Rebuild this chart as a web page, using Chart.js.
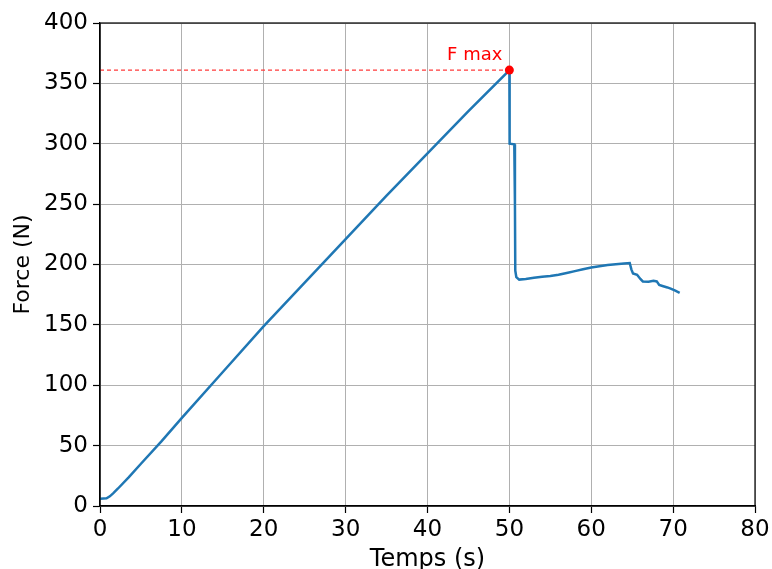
<!DOCTYPE html>
<html>
<head>
<meta charset="utf-8">
<script src="https://cdn.jsdelivr.net/npm/chart.js@4"></script>
<style>
  body { margin: 0; background: #fff; }
  canvas { display: block; }
</style>
</head>
<body>
<canvas id="force-chart" width="772" height="569"></canvas>
<script>
// Essai de traction : force en fonction du temps
const temps = [0, 0.8, 1.2, 1.6, 2.2, 3.5, 5, 7.5, 10, 15, 20, 25, 30, 35, 40, 45, 49.95,
    50.0, 50.03, 50.6, 50.68, 50.72, 50.85, 51.2, 52, 53, 54, 55, 56, 57, 58, 59, 60,
    61, 62, 63, 64, 64.7, 64.9, 65.1, 65.6, 66.0, 66.3, 67.0, 67.6, 68.0, 68.3, 68.8,
    69.3, 69.7, 70.2, 70.8];
const force = [6, 6.4, 8, 10.5, 14.5, 23.7, 35, 53.5, 73, 111, 149, 185, 221, 257, 292, 327, 360.5,
    361, 300, 299.5, 250, 195, 189.5, 187.5, 188, 189, 189.8, 190.5, 191.5, 193, 194.5, 196, 197.5,
    198.5, 199.5, 200.3, 200.8, 201.2, 196, 192.5, 191.5, 188, 186, 185.8, 186.5, 186, 183, 182,
    181, 180, 178.5, 176.5];

const fmaxTemps = [50.0];
const fmaxForce = [361];
const fmaxLabel = 'F max';

const xTicks = [0, 10, 20, 30, 40, 50, 60, 70, 80];
const yTicks = [0, 50, 100, 150, 200, 250, 300, 350, 400];

const courbe = temps.map((t, i) => ({ x: t, y: force[i] }));
const pointMax = fmaxTemps.map((t, i) => ({ x: t, y: fmaxForce[i] }));
const ligneMax = [{ x: xTicks[0], y: fmaxForce[0] }, { x: fmaxTemps[0], y: fmaxForce[0] }];

const FONT = 'DejaVu Sans';

// cadre complet + texte "F max"
const cadrePlugin = {
    id: 'cadre',
    afterDraw(chart) {
        const { ctx, chartArea, scales } = chart;
        ctx.save();
        ctx.strokeStyle = '#000';
        ctx.lineWidth = 1.2;
        ctx.strokeRect(chartArea.left, chartArea.top,
            chartArea.right - chartArea.left, chartArea.bottom - chartArea.top);

        const px = scales.x.getPixelForValue(fmaxTemps[0]);
        const py = scales.y.getPixelForValue(fmaxForce[0]);
        ctx.fillStyle = '#ff0000';
        ctx.font = `18px "${FONT}"`;
        ctx.textAlign = 'right';
        ctx.textBaseline = 'alphabetic';
        ctx.fillText(fmaxLabel, px - 7, py - 10);
        ctx.restore();
    }
};

new Chart(document.getElementById('force-chart'), {
    type: 'line',
    data: {
        datasets: [
            {
                data: ligneMax,
                borderColor: '#ff3b3b',
                borderWidth: 1.2,
                borderDash: [4, 3],
                pointRadius: 0,
                order: 2
            },
            {
                data: courbe,
                borderColor: '#1f77b4',
                borderWidth: 2.5,
                pointRadius: 0,
                tension: 0,
                order: 1
            },
            {
                data: pointMax,
                showLine: false,
                pointRadius: 4.5,
                pointBackgroundColor: '#ff0000',
                pointBorderColor: '#ff0000',
                borderWidth: 0,
                order: 0
            }
        ]
    },
    options: {
        responsive: false,
        animation: false,
        events: [],
        layout: { padding: { top: 23, right: 17, left: 0, bottom: 0 } },
        plugins: {
            legend: { display: false },
            tooltip: { enabled: false }
        },
        scales: {
            x: {
                type: 'linear',
                min: 0,
                max: 80,
                afterBuildTicks: s => { s.ticks = xTicks.map(v => ({ value: v })); },
                afterFit: s => { s.height = 63; s.paddingLeft = 0; s.paddingRight = 0; },
                grid: { color: '#b0b0b0', lineWidth: 1, tickLength: 7, tickColor: '#000', tickWidth: 1.2 },
                border: { color: '#000', width: 1.2 },
                ticks: { color: '#000', font: { family: FONT, size: 23 }, padding: 3, maxRotation: 0 },
                title: { display: true, text: 'Temps (s)', color: '#000',
                    font: { family: FONT, size: 24 }, padding: { top: 0, bottom: -5 } }
            },
            y: {
                min: 0,
                max: 400,
                afterBuildTicks: s => { s.ticks = yTicks.map(v => ({ value: v })); },
                afterFit: s => { s.width = 100; s.paddingTop = 0; s.paddingBottom = 0; },
                grid: { color: '#b0b0b0', lineWidth: 1, tickLength: 7, tickColor: '#000', tickWidth: 1.2 },
                border: { color: '#000', width: 1.2 },
                ticks: { color: '#000', font: { family: FONT, size: 23 }, padding: 5 },
                title: { display: true, text: 'Force (N)', color: '#000',
                    font: { family: FONT, size: 22 }, padding: { top: 10, bottom: 0 } }
            }
        }
    },
    plugins: [cadrePlugin]
});
</script>
</body>
</html>
